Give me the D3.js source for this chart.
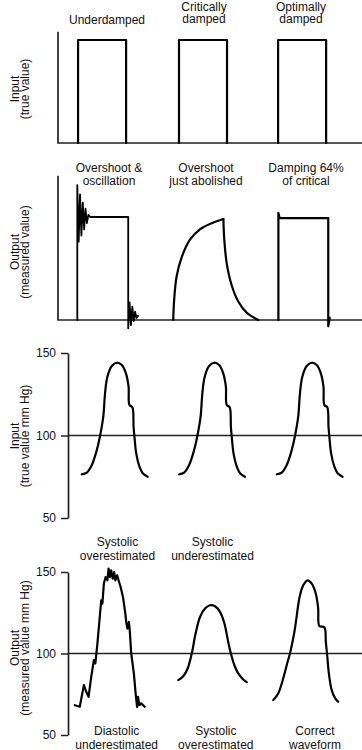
<!DOCTYPE html>
<html>
<head>
<meta charset="utf-8">
<script src="https://cdn.jsdelivr.net/npm/d3@7"></script>
<style>
  body { margin: 0; background: #fff; }
  svg text { font-family: "Liberation Sans", Arial, sans-serif; fill: #111; }
</style>
</head>
<body>
<svg id="chart" width="362" height="750"></svg>
<script>
// time runs 0..100 across every panel, values: 0..1 (panels 1-2), mm Hg (panels 3-4)

// panel 1: square wave input pulses [start, end]
var inputPulses = [[6.6, 22.4], [39.8, 55.6], [72.4, 88.2]];

// panel 2: measured outputs
var underdamped = [[6.35,0],[6.35,1.31],[6.8,0.76],[7.25,1.22],[7.7,0.82],[8.15,1.14],[8.6,0.88],[9.05,1.08],
  [9.5,0.94],[10.0,1.02],[10.6,1.0],
  [23.1,1.0],[23.1,-0.08],[23.55,0.17],[24.0,-0.05],[24.45,0.13],[24.9,-0.01],[25.35,0.08],[25.8,0.02],
  [26.3,0.04]];
var criticalRise = [[37.9,0],[38.2,0.19],[39.0,0.42],[40.7,0.61],[43.4,0.78],[46.7,0.88],[50.6,0.94],[54.4,0.98]];
var criticalFall = [[54.4,0.98],[54.7,0.78],[55.5,0.55],[57.1,0.34],[59.3,0.18],[62.1,0.07],[65.9,0.0]];
var optimal = [[72.5,0],[72.5,1.04],[72.9,0.99],[88.9,0.99],[88.9,-0.06],[89.4,0.02]];

// panel 3: true pressure beat, repeated at each start time
var beatStarts = [4.7, 37.8, 71.0];
var beatShape = [[0,76.5],[1.7,77.5],[3.4,82.1],[5.1,91.2],[6.2,99.7],[7.3,111.4],[7.9,125.6],[8.7,135.6],
  [10.2,142.1],[11.9,144.1],[13.6,142.7],[15.0,137.7],[15.9,129.6],[16.2,118.5],[17.2,117.1],[17.6,105.3],
  [17.9,99.3],[18.5,89.2],[19.6,81.1],[20.7,77.1],[22.4,75.0]];

// panel 4: measured pressure
var systolicOver = [[2.3,68.3],[4.0,67.3],[5.4,80.6],[6.2,76.5],[7.0,73.4],[7.9,85.7],[8.8,95.9],[9.3,93.9],
  [10.0,106.1],[10.8,122.4],[11.3,132.6],[11.7,130.6],[12.2,142.9],[12.8,146.9],[13.4,144.9],[13.8,152.1],
  [14.3,146.9],[14.7,151.0],[15.2,145.9],[15.7,150.0],[16.1,144.9],[16.7,148.0],[17.2,144.9],[17.9,140.8],
  [18.7,134.7],[19.5,124.5],[19.8,119.4],[20.2,115.3],[20.7,119.4],[21.0,114.3],[21.5,100.0],[22.4,87.8],
  [23.0,75.5],[23.5,67.3],[23.8,73.4],[24.3,68.3],[24.9,69.4],[26.1,67.3]];
var systolicUnder = [[37.5,83.7],[39.2,86.1],[40.7,90.8],[42.1,100.0],[43.4,112.2],[44.9,122.4],[46.6,127.6],
  [48.3,129.6],[50.0,129.0],[51.7,125.5],[53.2,118.4],[54.5,107.1],[55.4,100.0],[56.6,92.8],[57.9,87.8],
  [59.6,84.1],[60.8,82.4]];
var correctWave = [[69.8,71.4],[71.5,75.5],[73.2,84.7],[74.7,94.9],[75.5,100.0],[77.0,113.2],[78.3,129.6],
  [78.9,135.7],[80.0,141.8],[81.5,144.9],[82.9,142.9],[84.3,136.7],[85.1,127.6],[85.5,116.9],[87.2,116.1],
  [87.7,107.1],[88.1,100.0],[88.8,86.7],[89.7,77.5],[90.8,72.8],[91.9,70.4]];

var pressureTicks = [50, 100, 150];

var topLabels = [["Underdamped"], ["Critically", "damped"], ["Optimally", "damped"]];
var outputLabels = [["Overshoot &", "oscillation"], ["Overshoot", "just abolished"], ["Damping 64%", "of critical"]];
var upperNotes = [["Systolic", "overestimated"], ["Systolic", "underestimated"]];
var lowerNotes = [["Diastolic", "underestimated"], ["Systolic", "overestimated"], ["Correct", "waveform"]];
var yTitles = [["Input", "(true value)"], ["Output", "(measured value)"],
  ["Input", "(true value mm Hg)"], ["Output", "(measured value mm Hg)"]];

var svg = d3.select("#chart");

var x1 = d3.scaleLinear().domain([0, 100]).range([58, 362]);
var y1 = d3.scaleLinear().domain([0, 1]).range([143, 40]);
var y2 = d3.scaleLinear().domain([0, 1]).range([320, 217]);
var x3 = d3.scaleLinear().domain([0, 100]).range([68, 362]);
var y3 = d3.scaleLinear().domain([50, 150]).range([518, 353]);
var y4 = d3.scaleLinear().domain([50, 150]).range([735, 572]);

function drawLine(pts, x, y, curve, w) {
  var line = d3.line().x(function(d) { return x(d[0]); }).y(function(d) { return y(d[1]); })
    .curve(curve || d3.curveLinear);
  svg.append("path").attr("d", line(pts))
    .attr("fill", "none").attr("stroke", "#000").attr("stroke-width", w || 2.2)
    .attr("stroke-linejoin", "round").attr("stroke-linecap", "round");
}

// L-shaped axes for the square wave panels
function cornerAxis(y, top) {
  svg.append("path")
    .attr("d", "M" + x1(0) + "," + y(top) + "V" + y(0) + "H" + x1(100))
    .attr("fill", "none").attr("stroke", "#222").attr("stroke-width", 1.7);
}
cornerAxis(y1, 1.08);
cornerAxis(y2, 1.4);

inputPulses.forEach(function(p) {
  drawLine([[p[0], 0], [p[0], 1], [p[1], 1], [p[1], 0]], x1, y1);
});

drawLine(underdamped, x1, y2, null, 1.8);
drawLine(criticalRise, x1, y2, d3.curveCatmullRom);
drawLine(criticalFall, x1, y2, d3.curveCatmullRom);
drawLine(optimal, x1, y2);

// pressure axes
function pressureAxis(y) {
  var g = svg.append("g").attr("transform", "translate(" + x3(0) + ",0)")
    .call(d3.axisLeft(y).tickValues(pressureTicks).tickSize(7).tickSizeOuter(0).tickPadding(5));
  g.select(".domain").attr("stroke", "#222").attr("stroke-width", 1.7);
  g.selectAll(".tick line").attr("stroke", "#222").attr("stroke-width", 1.5);
  g.selectAll(".tick text").style("font-size", "12px").style("font-family", "Liberation Sans, Arial, sans-serif");
  svg.append("line")
    .attr("x1", x3(0)).attr("x2", x3(100)).attr("y1", y(100)).attr("y2", y(100))
    .attr("stroke", "#222").attr("stroke-width", 1.7);
}
pressureAxis(y3);
pressureAxis(y4);

beatStarts.forEach(function(s) {
  drawLine(beatShape.map(function(d) { return [s + d[0], d[1]]; }), x3, y3, d3.curveCatmullRom);
});

drawLine(systolicOver, x3, y4);
drawLine(systolicUnder, x3, y4, d3.curveCatmullRom);
drawLine(correctWave, x3, y4, d3.curveCatmullRom);

// text blocks
function block(lines, cx, baseline, gap) {
  var t = svg.append("text").attr("text-anchor", "middle").style("font-size", "12px");
  lines.forEach(function(s, i) {
    t.append("tspan").attr("x", cx).attr("y", baseline + i * gap).text(s);
  });
}
var topX = [107, 204, 301];
block(topLabels[0], topX[0], 24, 12.5);
block(topLabels[1], topX[1], 10.5, 12.5);
block(topLabels[2], topX[2], 10.5, 12.5);

var outX = [109, 206, 306];
outputLabels.forEach(function(l, i) { block(l, outX[i], 172, 13); });

var upX = [117.5, 212.5];
upperNotes.forEach(function(l, i) { block(l, upX[i], 546, 13.5); });
var lowX = [116.7, 215.8, 315];
lowerNotes.forEach(function(l, i) { block(l, lowX[i], 735, 13.5); });

// rotated axis titles
var titleY = [89, 252, 436, 648];
yTitles.forEach(function(l, i) {
  var t = svg.append("text").attr("text-anchor", "middle").style("font-size", "12px")
    .attr("transform", "rotate(-90)");
  l.forEach(function(s, j) {
    t.append("tspan").attr("x", -titleY[i]).attr("y", 19 + j * 10).text(s);
  });
});
</script>
</body>
</html>
